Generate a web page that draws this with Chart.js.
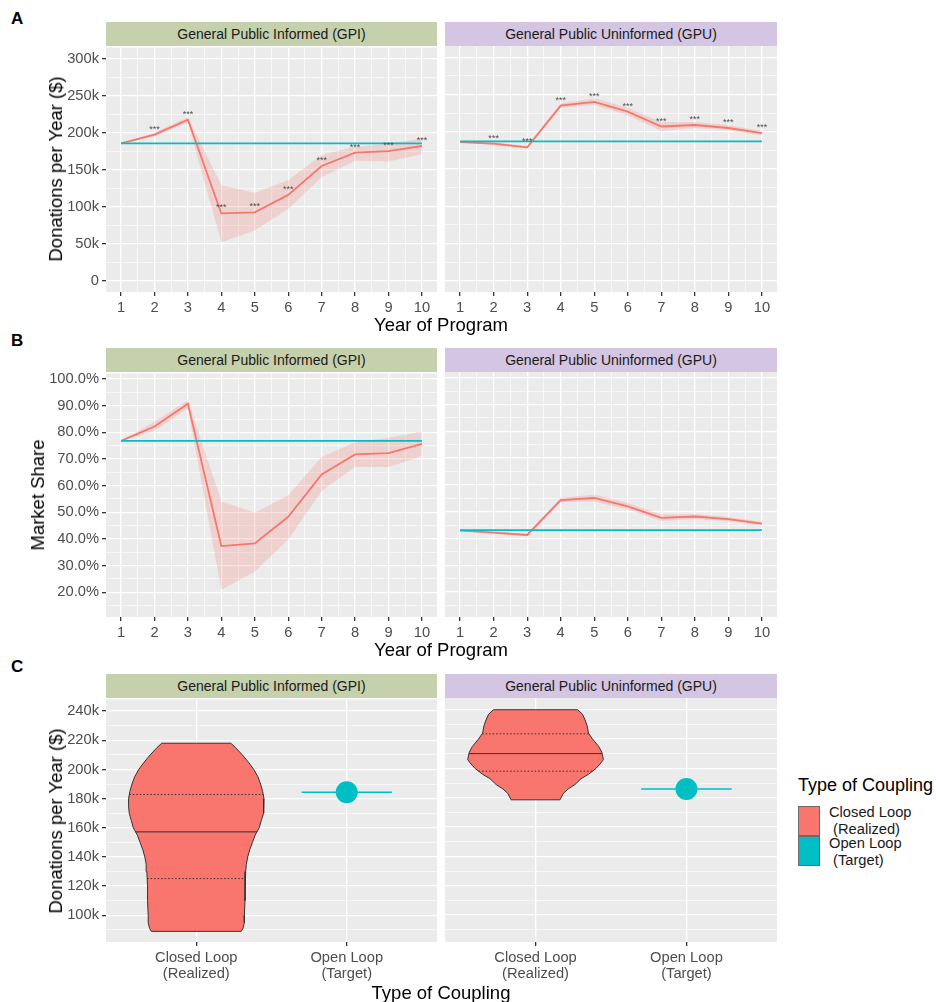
<!DOCTYPE html>
<html>
<head>
<meta charset="utf-8">
<script src="https://cdn.jsdelivr.net/npm/chart.js@4.4.1/dist/chart.umd.min.js"></script>
<style>
body{margin:0;background:#fff;width:936px;height:1002px;position:relative;overflow:hidden;font-family:"Liberation Sans",Arial,sans-serif;}
canvas{position:absolute;}
.strip{position:absolute;height:24px;line-height:24px;text-align:center;font-size:14px;color:#1A1A1A;}
.gpi{background:#C5D0AC;}
.gpu{background:#D4C5E2;}
.ttl{position:absolute;font-size:18.5px;color:#000;white-space:nowrap;transform:translate(-50%,-50%);}
.ytl{position:absolute;font-size:18.5px;color:#000;white-space:nowrap;transform:translate(-50%,-50%) rotate(-90deg);}
.lett{position:absolute;font-weight:bold;font-size:17px;color:#000;}
.leg{position:absolute;font-size:14.7px;color:#1A1A1A;white-space:pre;line-height:17px;}
.key{position:absolute;width:20px;border:1px solid #6b6b6b;}
</style>
</head>
<body>
<div class="lett" style="left:11px;top:9px">A</div>
<div class="lett" style="left:11px;top:331px">B</div>
<div class="lett" style="left:11px;top:657px">C</div>

<div class="strip gpi" style="left:106px;top:22px;width:331px">General Public Informed (GPI)</div>
<div class="strip gpu" style="left:445px;top:22px;width:332px">General Public Uninformed (GPU)</div>
<div class="strip gpi" style="left:106px;top:348px;width:331px">General Public Informed (GPI)</div>
<div class="strip gpu" style="left:445px;top:348px;width:332px">General Public Uninformed (GPU)</div>
<div class="strip gpi" style="left:106px;top:674px;width:331px">General Public Informed (GPI)</div>
<div class="strip gpu" style="left:445px;top:674px;width:332px">General Public Uninformed (GPU)</div>

<canvas id="cA1" width="397" height="284" style="left:40px;top:36px"></canvas>
<canvas id="cA2" width="332" height="284" style="left:445px;top:36px"></canvas>
<canvas id="cB1" width="397" height="283" style="left:40px;top:362px"></canvas>
<canvas id="cB2" width="332" height="283" style="left:445px;top:362px"></canvas>
<canvas id="cC1" width="397" height="300" style="left:40px;top:688px"></canvas>
<canvas id="cC2" width="332" height="300" style="left:445px;top:688px"></canvas>

<div class="ytl" style="left:56px;top:169px">Donations per Year ($)</div>
<div class="ttl" style="left:441px;top:325px">Year of Program</div>
<div class="ytl" style="left:38px;top:495px">Market Share</div>
<div class="ttl" style="left:441px;top:650px">Year of Program</div>
<div class="ytl" style="left:56px;top:821px">Donations per Year ($)</div>
<div class="ttl" style="left:441px;top:993px">Type of Coupling</div>

<div class="leg" style="left:798px;top:777px;font-size:18px;color:#000">Type of Coupling</div>
<div class="key" style="left:798px;top:806px;height:28px;background:#F8766D"></div>
<div class="key" style="left:798px;top:836px;height:28px;background:#00BFC4"></div>
<div class="leg" style="left:829px;top:804px">Closed Loop
 (Realized)</div>
<div class="leg" style="left:829px;top:835px">Open Loop
 (Target)</div>

<script>
// ---- data ----
const years = [1, 2, 3, 4, 5, 6, 7, 8, 9, 10];
const sigLabels = ['', '***', '***', '***', '***', '***', '***', '***', '***', '***'];

// A: donations per year, GPI
const gpiDonMean   = [185500, 197500, 217500, 91000, 92500, 116000, 155000, 173000, 175000, 182000];
const gpiDonLow    = [185500, 195000, 214000, 52000, 68000, 97000, 140000, 162000, 161000, 171000];
const gpiDonHigh   = [185500, 200000, 221000, 129000, 119000, 136000, 170000, 181000, 185000, 192000];
const gpiDonTarget = [185500, 185500, 185500, 185500, 185500, 185500, 185500, 185500, 185500, 185500];

// A: donations per year, GPU
const gpuDonMean   = [186000, 184000, 179000, 235000, 240000, 227000, 207000, 209000, 205000, 198000];
const gpuDonLow    = [186000, 182000, 177000, 232000, 236000, 222000, 201000, 205000, 202000, 195000];
const gpuDonHigh   = [186000, 186000, 181000, 238000, 245000, 232000, 213000, 213000, 209000, 201000];
const gpuDonTarget = [187000, 187000, 187000, 187000, 187000, 187000, 187000, 187000, 187000, 187000];

// B: market share (%)
const gpiShareMean   = [76.8, 82.2, 90.7, 37.3, 38.3, 48.3, 64.2, 71.7, 72.2, 75.7];
const gpiShareLow    = [76.8, 80.5, 89.0, 20.9, 27.7, 39.8, 58.0, 67.0, 67.0, 71.0];
const gpiShareHigh   = [76.8, 84.0, 92.0, 54.1, 49.8, 56.4, 70.7, 76.3, 78.0, 80.3];
const gpiShareTarget = [76.8, 76.8, 76.8, 76.8, 76.8, 76.8, 76.8, 76.8, 76.8, 76.8];

const gpuShareMean   = [42.9, 42.2, 41.3, 54.3, 55.1, 52.0, 47.7, 48.2, 47.2, 45.5];
const gpuShareLow    = [42.9, 41.8, 40.8, 53.5, 53.8, 50.8, 46.5, 47.3, 46.4, 44.8];
const gpuShareHigh   = [42.9, 42.6, 41.8, 55.1, 56.4, 53.2, 48.9, 49.1, 48.0, 46.2];
const gpuShareTarget = [43.1, 43.1, 43.1, 43.1, 43.1, 43.1, 43.1, 43.1, 43.1, 43.1];

// C: violins (value levels and relative density), quartiles, targets
const couplingCats = [['Closed Loop', '(Realized)'], ['Open Loop', '(Target)']];
const gpiViolinVals = [218000, 215000, 210000, 205000, 200000, 195000, 190000, 185000, 180000, 175000, 170000, 165000, 160000, 155000, 150000, 145000, 140000, 135000, 130000, 120000, 110000, 100000, 95000, 91000, 89000];
const gpiViolinDens = [0.51, 0.58, 0.68, 0.77, 0.85, 0.91, 0.95, 0.98, 1.0, 1.0, 0.99, 0.96, 0.93, 0.87, 0.83, 0.79, 0.76, 0.74, 0.73, 0.72, 0.72, 0.71, 0.71, 0.69, 0.665];
const gpiQuartiles = [125200, 157200, 182800];
const gpiTarget = 184400;

const gpuViolinVals = [240000, 237000, 233000, 229000, 224000, 220000, 215000, 211000, 206000, 203000, 200000, 196000, 193000, 189000, 186000, 183000, 178600];
const gpuViolinDens = [0.62, 0.69, 0.73, 0.76, 0.78, 0.84, 0.93, 0.976, 1.0, 0.95, 0.89, 0.78, 0.67, 0.58, 0.48, 0.41, 0.36];
const gpuQuartiles = [198100, 210100, 223600];
const gpuTarget = 186000;

const yearMajor = [1, 2, 3, 4, 5, 6, 7, 8, 9, 10];
const yearMinor = [1.5, 2.5, 3.5, 4.5, 5.5, 6.5, 7.5, 8.5, 9.5];
const donMajor = [0, 50000, 100000, 150000, 200000, 250000, 300000];
const donMinor = [25000, 75000, 125000, 175000, 225000, 275000];
const shareMajor = [20, 30, 40, 50, 60, 70, 80, 90, 100];
const shareMinor = [15, 25, 35, 45, 55, 65, 75, 85, 95];
const violinMajor = [100000, 120000, 140000, 160000, 180000, 200000, 220000, 240000];
const violinMinor = [90000, 110000, 130000, 150000, 170000, 190000, 210000, 230000];

// ---- helpers ----
const FONT = '"Liberation Sans", Arial, sans-serif';
const RED = '#F8766D', TEAL = '#00BFC4';

const panelBg = {
  id: 'panelBg',
  beforeDraw(chart) {
    const a = chart.chartArea, ctx = chart.ctx;
    ctx.save();
    ctx.fillStyle = '#EBEBEB';
    ctx.fillRect(a.left, a.top, a.right - a.left, a.bottom - a.top);
    ctx.restore();
  }
};

const starText = {
  id: 'starText',
  afterDatasetsDraw(chart) {
    const ctx = chart.ctx;
    chart.data.datasets.forEach((ds, i) => {
      if (!ds.stars) return;
      const meta = chart.getDatasetMeta(i);
      ctx.save();
      ctx.font = '9px ' + FONT;
      ctx.fillStyle = '#4D4D4D';
      ctx.textAlign = 'center';
      ctx.textBaseline = 'alphabetic';
      meta.data.forEach((p, j) => {
        if (ds.stars[j]) ctx.fillText(ds.stars[j], p.x, p.y - 3);
      });
      ctx.restore();
    });
  }
};

function axis(o) {
  const all = o.major.concat(o.minor).sort((a, b) => a - b);
  const isMajor = v => o.major.indexOf(v) !== -1;
  return {
    type: 'linear',
    min: o.min,
    max: o.max,
    afterBuildTicks: s => { s.ticks = all.map(v => ({value: v})); },
    afterFit: s => {
      if (s.isHorizontal()) s.height = o.size; else s.width = o.size;
    },
    border: {display: false},
    grid: {
      color: '#FFFFFF',
      lineWidth: c => (c.tick && isMajor(c.tick.value)) ? 1.3 : 0.6,
      tickColor: c => (c.tick && isMajor(c.tick.value)) ? '#333333' : 'rgba(0,0,0,0)',
      tickLength: 4,
      drawTicks: o.show
    },
    ticks: {
      display: o.show,
      autoSkip: false,
      maxRotation: 0,
      minRotation: 0,
      padding: 3,
      color: '#4D4D4D',
      font: {family: FONT, size: 14.7, lineHeight: 1.15},
      callback: v => isMajor(v) ? o.fmt(v) : ''
    }
  };
}

function pts(xs, ys) { return xs.map((x, i) => ({x: x, y: ys[i]})); }

function trendSets(mean, low, high, target, sig) {
  const none = 'rgba(0,0,0,0)';
  return [
    {data: pts(years, target), borderColor: TEAL, borderWidth: 1.8, pointRadius: 0, fill: false},
    {data: pts(years, high), borderColor: none, borderWidth: 1, pointRadius: 0, fill: '+1', backgroundColor: 'rgba(248,118,109,0.22)'},
    {data: pts(years, low), borderColor: none, borderWidth: 1, pointRadius: 0, fill: false},
    {data: pts(years, mean), borderColor: RED, borderWidth: 1.8, pointRadius: 0, fill: false, stars: sig}
  ];
}

function densAt(vals, dens, v) {
  for (let i = 0; i < vals.length - 1; i++) {
    const a = vals[i], b = vals[i + 1];
    if (v <= a && v >= b) return dens[i] + (dens[i + 1] - dens[i]) * (a - v) / (a - b);
  }
  return 0;
}

function violinSets(vals, dens, quart, target) {
  const c = 1, half = 0.45;
  const right = vals.map((v, i) => ({x: c + half * dens[i], y: v}));
  const left = vals.map((v, i) => ({x: c - half * dens[i], y: v})).reverse();
  const outline = right.concat(left, [right[0]]);
  const sets = [
    {data: [{x: 2, y: target}], showLine: false, pointRadius: 11, pointBackgroundColor: TEAL, pointBorderWidth: 0},
    {data: [{x: 2 - 0.3, y: target}, {x: 2 + 0.3, y: target}], borderColor: TEAL, borderWidth: 1.5, pointRadius: 0, fill: false}
  ];
  quart.forEach((q, k) => {
    const w = half * densAt(vals, dens, q);
    sets.push({data: [{x: c - w, y: q}, {x: c + w, y: q}], borderColor: '#333333', borderWidth: 1,
      borderDash: k === 1 ? [] : [1.5, 2], pointRadius: 0, fill: false});
  });
  sets.push({data: outline, borderColor: '#333333', borderWidth: 1, backgroundColor: RED, fill: 'shape', pointRadius: 0, tension: 0});
  return sets;
}

function makeChart(id, datasets, xAxis, yAxis) {
  return new Chart(document.getElementById(id), {
    type: 'line',
    data: {datasets: datasets},
    options: {
      responsive: false,
      animation: false,
      events: [],
      layout: {autoPadding: false, padding: {top: 10, left: 0, right: 0, bottom: 0}},
      plugins: {legend: {display: false}, tooltip: {enabled: false}},
      scales: {x: xAxis, y: yAxis}
    },
    plugins: [panelBg, starText]
  });
}

const fmtYear = v => String(v);
const fmtK = v => v === 0 ? '0' : (v / 1000) + 'k';
const fmtPct = v => v.toFixed(1) + '%';
const fmtCat = v => couplingCats[v - 1];

const xYear = () => axis({min: 0.55, max: 10.45, major: yearMajor, minor: yearMinor, fmt: fmtYear, size: 28, show: true});
const xCat = () => axis({min: 0.4, max: 2.6, major: [1, 2], minor: [], fmt: fmtCat, size: 46, show: true});

makeChart('cA1', trendSets(gpiDonMean, gpiDonLow, gpiDonHigh, gpiDonTarget, sigLabels), xYear(),
  axis({min: -15000, max: 315000, major: donMajor, minor: donMinor, fmt: fmtK, size: 66, show: true}));
makeChart('cA2', trendSets(gpuDonMean, gpuDonLow, gpuDonHigh, gpuDonTarget, sigLabels), xYear(),
  axis({min: -15000, max: 315000, major: donMajor, minor: donMinor, fmt: fmtK, size: 0, show: false}));

makeChart('cB1', trendSets(gpiShareMean, gpiShareLow, gpiShareHigh, gpiShareTarget, null), xYear(),
  axis({min: 10.7, max: 102.1, major: shareMajor, minor: shareMinor, fmt: fmtPct, size: 66, show: true}));
makeChart('cB2', trendSets(gpuShareMean, gpuShareLow, gpuShareHigh, gpuShareTarget, null), xYear(),
  axis({min: 10.7, max: 102.1, major: shareMajor, minor: shareMinor, fmt: fmtPct, size: 0, show: false}));

makeChart('cC1', violinSets(gpiViolinVals, gpiViolinDens, gpiQuartiles, gpiTarget), xCat(),
  axis({min: 81700, max: 248000, major: violinMajor, minor: violinMinor, fmt: fmtK, size: 66, show: true}));
makeChart('cC2', violinSets(gpuViolinVals, gpuViolinDens, gpuQuartiles, gpuTarget), xCat(),
  axis({min: 81700, max: 248000, major: violinMajor, minor: violinMinor, fmt: fmtK, size: 0, show: false}));
</script>
</body>
</html>
